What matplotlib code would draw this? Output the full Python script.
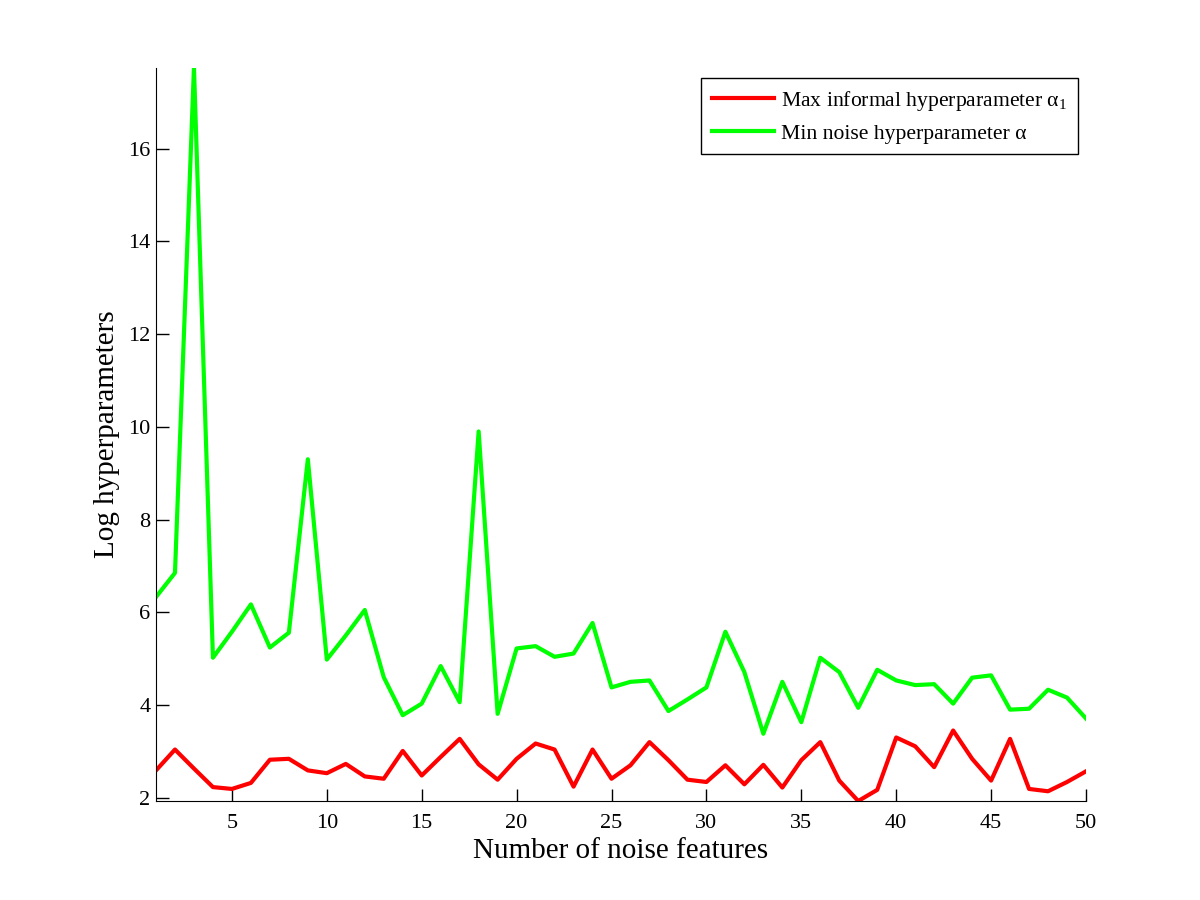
import numpy as np
import matplotlib
matplotlib.use("Agg")
import matplotlib.pyplot as plt

# --- data ---
n_noise = np.arange(1, 51)

max_informal = [
    2.59, 3.04, 2.63, 2.23, 2.19, 2.32, 2.82, 2.84, 2.59, 2.53,
    2.73, 2.46, 2.41, 3.01, 2.48, 2.88, 3.27, 2.72, 2.39, 2.84,
    3.17, 3.04, 2.24, 3.04, 2.41, 2.70, 3.20, 2.81, 2.39, 2.34,
    2.70, 2.29, 2.71, 2.22, 2.81, 3.20, 2.37, 1.93, 2.17, 3.30,
    3.11, 2.66, 3.45, 2.84, 2.37, 3.27, 2.19, 2.14, 2.34, 2.57,
]

min_noise = [
    6.33, 6.85, 17.75, 5.02, 5.58, 6.17, 5.24, 5.56, 9.30, 4.98,
    5.50, 6.05, 4.60, 3.78, 4.03, 4.84, 4.06, 9.90, 3.81, 5.22,
    5.27, 5.04, 5.11, 5.77, 4.38, 4.50, 4.53, 3.87, 4.12, 4.38,
    5.58, 4.71, 3.38, 4.50, 3.63, 5.02, 4.71, 3.94, 4.76, 4.53,
    4.43, 4.45, 4.03, 4.59, 4.64, 3.90, 3.92, 4.33, 4.16, 3.71,
]

plt.rcParams['font.family'] = ['Liberation Serif', 'DejaVu Serif']
plt.rcParams['mathtext.fontset'] = 'custom'
plt.rcParams['mathtext.rm'] = 'Liberation Serif'

fig = plt.figure(figsize=(12, 9), dpi=100)
ax = fig.add_axes([0.13, 0.11, 0.775, 0.815])

ax.plot(n_noise, max_informal, color='#ff0000', lw=3,
        label='Max informal hyperparameter α$_\\mathrm{1}$')
ax.plot(n_noise, min_noise, color='#00ff00', lw=3,
        label='Min noise hyperparameter α')

ax.set_xlim(1, 50)
ax.set_ylim(min(max_informal), max(min_noise))
ax.set_xticks(np.arange(5, 51, 5))
ax.set_yticks(np.arange(2, 17, 2))

ax.spines['top'].set_visible(False)
ax.spines['right'].set_visible(False)
ax.tick_params(direction='in', length=9, width=1, labelsize=16)
ax.tick_params(axis='x', pad=9)
ax.tick_params(axis='y', pad=4)

ax.set_xlabel('Number of noise features', fontsize=21, labelpad=4)
ax.set_ylabel('Log hyperparameters', fontsize=21, labelpad=6)

leg = ax.legend(loc='upper right', fontsize=15.6, fancybox=False,
                edgecolor='black', framealpha=1, handlelength=2.85,
                handletextpad=0.3, borderpad=0.5, borderaxespad=0,
                bbox_to_anchor=(0.991, 0.986))
leg.get_frame().set_linewidth(1)

fig.savefig('out.png', dpi=100)
